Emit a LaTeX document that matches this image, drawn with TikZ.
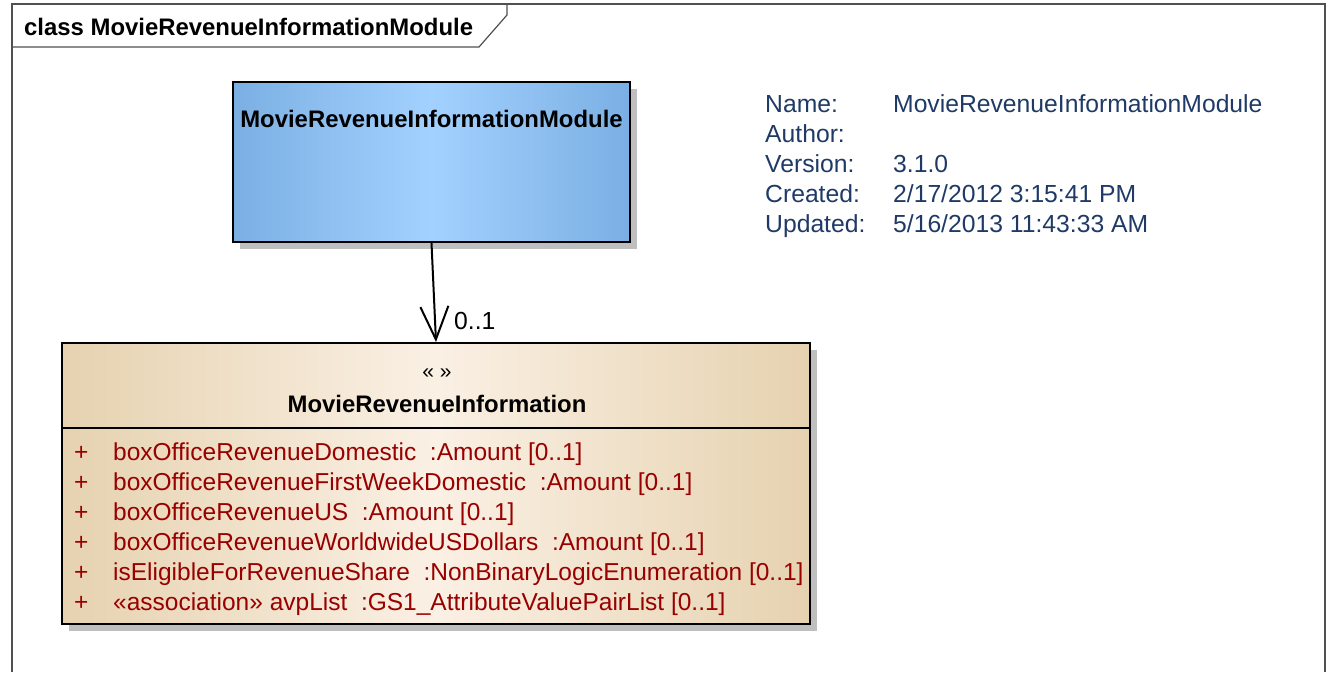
\documentclass[tikz,border=0pt]{standalone}
\usepackage{fontspec}
\setmainfont{Liberation Sans}
\usepackage{xcolor}
\usetikzlibrary{arrows.meta, shadows}

\definecolor{blueedge}{HTML}{7BAFE3}
\definecolor{bluemid}{HTML}{A3D1FF}
\definecolor{tanedge}{HTML}{E6D2B0}
\definecolor{tanmid}{HTML}{FAF0E4}
\definecolor{attrred}{HTML}{990000}
\definecolor{infoblue}{HTML}{1F3A66}
\definecolor{framegray}{HTML}{505050}

\begin{document}
\begin{tikzpicture}[
                x=1pt, y=-1pt,
                >=latex,
                font=\fontsize{24.7}{30}\selectfont,
                frame/.style={draw=framegray, line width=1.2pt},
                umlbox/.style={rectangle, draw, line width=2pt, inner sep=0pt,
                    drop shadow={shadow xshift=7pt, shadow yshift=-7pt, fill=black!25, opacity=1}},
                boldname/.style={font=\fontsize{23.9}{28}\selectfont\bfseries},
                attr/.style={anchor=north west, inner sep=0pt, text=attrred, font=\fontsize{24.5}{30}\selectfont},
                assoc/.style={draw, line width=2pt, -{Straight Barb[length=33pt, width=28pt, line width=2pt]}}
            ]
                \useasboundingbox (0,0) rectangle (1330,672);

                % --- RAHMEN ---
                \draw[frame] (12,672) -- (12,4) -- (1325,4) -- (1325,672);
                \draw[frame] (12,47) -- (479,47) -- (507,15) -- (507,4);
                \node[anchor=west, inner sep=0pt, boldname] (frametitle) at (24,27) {class MovieRevenueInformationModule};

                % --- MODUL ---
                \node[umlbox, left color=blueedge, right color=blueedge, middle color=bluemid,
                      minimum width=397pt, minimum height=160pt] (module) at (431.5,162) {};
                \node[boldname, below=0pt] (modulename) at ([yshift=-26pt]module.north) {MovieRevenueInformationModule};

                % --- KLASSE ---
                \node[umlbox, left color=tanedge, right color=tanedge, middle color=tanmid,
                      minimum width=748pt, minimum height=281pt] (mri) at (436,483.5) {};
                \node[font=\fontsize{21}{24}\selectfont] (stereo) at (437,374) {« »};
                \node[boldname] (mriname) at (437,404) {MovieRevenueInformation};
                \draw[line width=2pt] (mri.west |- 0,428) -- (mri.east |- 0,428);
                \node[attr] (attrs) at (74,439) {%
                    \begin{tabular}{@{}p{39pt}@{}l@{}}
                    + & boxOfficeRevenueDomestic \ :Amount [0..1]\\
                    + & boxOfficeRevenueFirstWeekDomestic \ :Amount [0..1]\\
                    + & boxOfficeRevenueUS \ :Amount [0..1]\\
                    + & boxOfficeRevenueWorldwideUSDollars \ :Amount [0..1]\\
                    + & isEligibleForRevenueShare \ :NonBinaryLogicEnumeration [0..1]\\
                    + & «association» avpList \ :GS1\_AttributeValuePairList [0..1]
                    \end{tabular}};

                % --- VERBINDUNG ---
                \draw[assoc] (module.south) -- (mri.north);
                \node[anchor=west, inner sep=0pt] (mult) at ([xshift=18pt, yshift=21pt]mri.north) {0..1};

                % --- INFO ---
                \node[anchor=north west, inner sep=0pt, text=infoblue] (info) at (765,91) {%
                    \begin{tabular}{@{}p{128pt}@{}l@{}}
                    Name: & MovieRevenueInformationModule\\
                    Author: & \\
                    Version: & 3.1.0\\
                    Created: & 2/17/2012 3:15:41 PM\\
                    Updated: & 5/16/2013 11:43:33 AM
                    \end{tabular}};

            \end{tikzpicture}
\end{document}
